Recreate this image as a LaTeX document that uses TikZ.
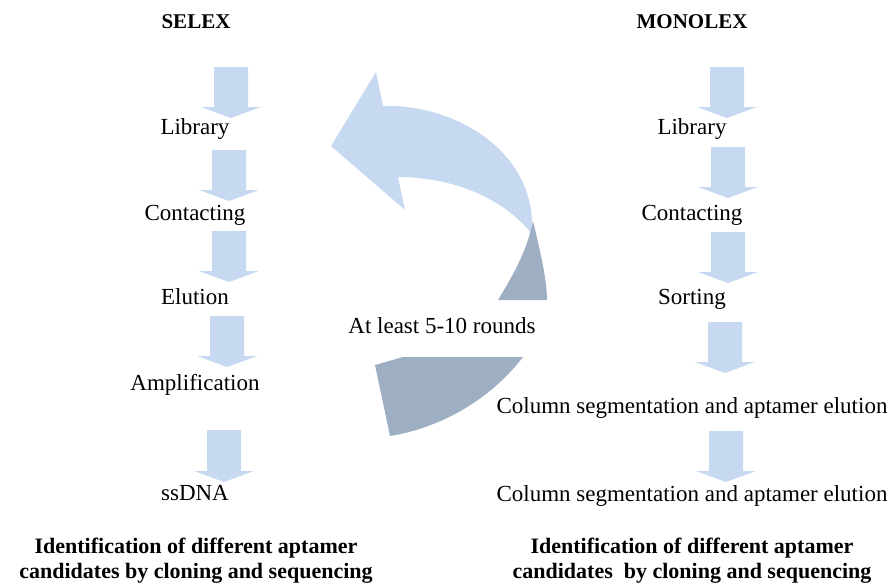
\documentclass[tikz,border=0pt]{standalone}
\usepackage{fontspec}
\setmainfont{Liberation Serif}

\definecolor{bluchiaro}{RGB}{198,217,240}
\definecolor{grigioblu}{RGB}{158,175,195}

% Freccia a blocco verso il basso: x centrale, y inizio, y punta
\newcommand{\frecciagiu}[3]{%
  \fill[bluchiaro] (#1-17,#2) -- (#1+17,#2) -- (#1+17,#3-11) -- (#1+30,#3-11)
    -- (#1,#3) -- (#1-30,#3-11) -- (#1-17,#3-11) -- cycle;}

\tikzset{
  passo/.style={anchor=base, font=\fontsize{23}{25}\selectfont},
  titolo/.style={anchor=base, font=\fontsize{21}{23}\selectfont\bfseries},
  conclusione/.style={anchor=base, align=center,
    font=\fontsize{22}{25}\selectfont\bfseries}
}

\begin{document}
\begin{tikzpicture}[x=1pt, y=-1pt]

    \useasboundingbox (0,0) rectangle (889,584);

    % Titoli delle due colonne
    \node[titolo] (selex) at (196, 28) {SELEX};
    \node[titolo] (monolex) at (692, 28) {MONOLEX};

    % Frecce della colonna SELEX
    \frecciagiu{231}{67}{118}
    \frecciagiu{229}{150}{201}
    \frecciagiu{229}{231}{282}
    \frecciagiu{227}{316}{367}
    \frecciagiu{224}{430}{482}

    % Frecce della colonna MONOLEX
    \frecciagiu{727}{67}{118}
    \frecciagiu{728}{147}{198}
    \frecciagiu{728}{232}{283}
    \frecciagiu{725}{322}{373}
    \frecciagiu{726}{431}{482}

    % Passi SELEX
    \node[passo] (s1) at (195, 134) {Library};
    \node[passo] (s2) at (195, 220) {Contacting};
    \node[passo] (s3) at (195, 304) {Elution};
    \node[passo] (s4) at (195, 390) {Amplification};
    \node[passo] (s5) at (195, 500) {ssDNA};

    % Passi MONOLEX
    \node[passo] (m1) at (692, 134) {Library};
    \node[passo] (m2) at (692, 220) {Contacting};
    \node[passo] (m3) at (692, 304) {Sorting};
    \node[passo] (m4) at (692, 413) {Column segmentation and aptamer elution};
    \node[passo] (m5) at (692, 501) {Column segmentation and aptamer elution};

    % Freccia circolare dei cicli
    \fill[bluchiaro] (331,146) -- (376,72) -- (383,106)
        .. controls (455,104) and (530,150) .. (532,222) -- (531,233)
        .. controls (505,200) and (455,177) .. (398,177) -- (405,210) -- cycle;
    \fill[grigioblu] (533,221) .. controls (540,250) and (547,280) .. (547,300)
        -- (498,300) .. controls (515,272) and (527,250) .. (533,221) -- cycle;
    \fill[grigioblu] (375,365) -- (403,357) -- (523,357)
        .. controls (490,400) and (440,428) .. (390,436) -- cycle;
    \node[passo] (cicli) at (442, 333) {At least 5-10 rounds};

    % Conclusioni in basso (base = ultima riga)
    \node[conclusione] (fineS) at (196, 578)
        {Identification of different aptamer\\candidates by cloning and sequencing};
    \node[conclusione] (fineM) at (692, 578)
        {Identification of different aptamer\\candidates~ by cloning and sequencing};

\end{tikzpicture}
\end{document}
